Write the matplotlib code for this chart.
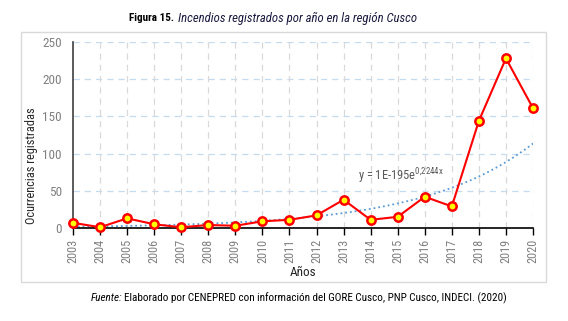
import numpy as np
import matplotlib.pyplot as plt
from matplotlib.patches import Rectangle

plt.rcParams['font.family'] = ['Roboto Condensed', 'Roboto', 'DejaVu Sans']
plt.rcParams['mathtext.default'] = 'regular'

anios = np.array([2003, 2004, 2005, 2006, 2007, 2008, 2009, 2010, 2011,
                  2012, 2013, 2014, 2015, 2016, 2017, 2018, 2019, 2020])
incendios = np.array([7, 1, 13, 5, 1, 4, 3, 9, 11,
                      17, 38, 11, 15, 42, 29, 144, 228, 161])
y_ticks = [0, 50, 100, 150, 200, 250]
ecuacion = "y = 1E-195e$^{0{,}2244x}$"

# ajuste exponencial (linea de tendencia)
b, ln_a = np.polyfit(anios - anios[0], np.log(incendios), 1)
x_t = np.linspace(anios[0], anios[-1], 200)
y_t = np.exp(ln_a) * np.exp(b * (x_t - anios[0]))

W, H = 568, 321
fig = plt.figure(figsize=(W / 100, H / 100), dpi=100)

# marco exterior
fig.patches.append(Rectangle((20.7 / W, 1 - 281.7 / H), (546 - 20.7) / W, (281.7 - 31.7) / H,
                             transform=fig.transFigure, fill=False, edgecolor="#d9d9d9", lw=1))

ax = fig.add_axes([73 / W, 1 - 228 / H, (533 - 73) / W, (228 - 42) / H])
ax.set_xlim(2003, 2020)
ax.set_ylim(0, 250)

for yv in y_ticks[1:]:
    ax.axhline(yv, color="#c5dbf0", lw=0.9, ls=(0, (5, 4)), zorder=0)
for xv in anios[1:]:
    ax.axvline(xv, color="#d9d9d9", lw=0.9, ls=(0, (5, 4)), zorder=0)

ax.plot(x_t, y_t, ":", color="#5b9bd5", lw=1.3, zorder=2)
ax.plot(anios, incendios, "-o", color="#ff0000", lw=1.5, ms=6,
        mfc="#ffff00", mec="#ff0000", mew=1.8, zorder=3, clip_on=False)

ax.text(2013.55, 69, ecuacion, color="#595959", fontsize=9, va="center", ha="left")

for s in ["top", "right"]:
    ax.spines[s].set_visible(False)
ax.spines["left"].set_color("#404040")
ax.spines["bottom"].set_color("black")
ax.spines["left"].set_linewidth(1.2)
ax.spines["bottom"].set_linewidth(1.2)

ax.set_xticks(anios)
ax.set_xticklabels([str(a) for a in anios], rotation=90, color="#808080", fontsize=8.8)
ax.set_yticks(y_ticks)
ax.set_yticklabels([str(v) for v in y_ticks], color="#808080", fontsize=9.5)
ax.tick_params(axis="x", direction="out", length=5, width=1, color="black", pad=3)
ax.tick_params(axis="y", length=0, pad=8)

ax.set_ylabel("Ocurrencias registradas", fontsize=8.9, color="#262626")
ax.yaxis.set_label_coords(-0.076, 0.333)
ax.set_xlabel("Años", fontsize=9.5, color="#262626", labelpad=2)

fig.text(174 / W, 1 - 18 / H, "Figura 15.", fontweight="heavy", fontsize=8,
         ha="right", va="center", color="black")
fig.text(178 / W, 1 - 18 / H, "Incendios registrados por año en la región Cusco",
         style="italic", fontsize=9.2, ha="left", va="center", color="#1a1a40")

fig.text(122 / W, 1 - 298 / H, "Fuente:", style="italic", fontsize=8, ha="right", va="center")
fig.text(124 / W, 1 - 298 / H,
         "Elaborado por CENEPRED con información del GORE Cusco, PNP Cusco, INDECI. (2020)",
         fontsize=8, ha="left", va="center")

fig.savefig("out.png", dpi=100)
